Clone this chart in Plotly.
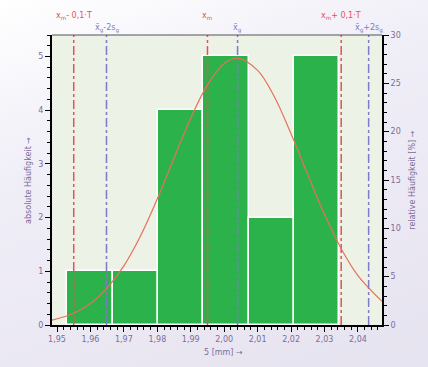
import plotly.graph_objects as go

# ---- data ----
bin_edges = [1.953, 1.9666, 1.9801, 1.9937, 2.0073, 2.0209, 2.0344]
counts = [1, 1, 4, 5, 2, 5]

curve_x = [1.9485, 1.955, 1.96, 1.965, 1.97, 1.975, 1.98, 1.985, 1.99, 1.995,
           2.0, 2.004, 2.01, 2.015, 2.02, 2.025, 2.03, 2.035, 2.04, 2.0472]
curve_y = [0.09, 0.22, 0.40, 0.69, 1.10, 1.66, 2.35, 3.11, 3.85, 4.47,
           4.87, 4.97, 4.74, 4.25, 3.56, 2.80, 2.06, 1.42, 0.92, 0.44]

red_lines = [1.955, 1.995, 2.035]
red_labels = ["x<sub>m</sub>- 0,1·T", "x<sub>m</sub>", "x<sub>m</sub>+ 0,1·T"]
blue_lines = [1.9648, 2.004, 2.0432]
blue_labels = ["x̄<sub>g</sub>-2s<sub>g</sub>", "x̄<sub>g</sub>", "x̄<sub>g</sub>+2s<sub>g</sub>"]

x_ticks = [1.95, 1.96, 1.97, 1.98, 1.99, 2.00, 2.01, 2.02, 2.03, 2.04]
x_ticktext = ["1,95", "1,96", "1,97", "1,98", "1,99", "2,00", "2,01", "2,02", "2,03", "2,04"]
y_ticks = [0, 1, 2, 3, 4, 5]
y2_ticks = [0, 5, 10, 15, 20, 25, 30]

x_range = [1.9485, 2.0472]
y_range = [0, 5.4]
y2_range = [0, 30]

# ---- styles ----
TICKCOL = "#7d6c96"
RED = "#e8505a"
BLUE = "#7d7acb"
GREEN = "#2bb24a"

centers = [(a + b) / 2 for a, b in zip(bin_edges[:-1], bin_edges[1:])]
widths = [b - a for a, b in zip(bin_edges[:-1], bin_edges[1:])]

fig = go.Figure()
fig.add_trace(go.Bar(x=centers, y=counts, width=widths,
                     marker=dict(color=GREEN, line=dict(color="white", width=1.5)),
                     showlegend=False, hoverinfo="skip"))
for xv in red_lines:
    fig.add_trace(go.Scatter(x=[xv, xv], y=y_range, mode="lines",
                             line=dict(color=RED, width=1.5, dash="dashdot"),
                             showlegend=False, hoverinfo="skip"))
for xv in blue_lines:
    fig.add_trace(go.Scatter(x=[xv, xv], y=y_range, mode="lines",
                             line=dict(color=BLUE, width=1.5, dash="dashdot"),
                             showlegend=False, hoverinfo="skip"))
fig.add_trace(go.Scatter(x=curve_x, y=curve_y, mode="lines", line_shape="spline",
                         line=dict(color="#e8705a", width=1.2),
                         showlegend=False, hoverinfo="skip"))
# invisible trace to activate y2
fig.add_trace(go.Scatter(x=[x_range[0]], y=[0], yaxis="y2", mode="markers",
                         marker=dict(opacity=0), showlegend=False, hoverinfo="skip"))

for xv, txt in zip(red_lines, red_labels):
    fig.add_annotation(x=xv, y=1, xref="x", yref="paper", text=txt, showarrow=False,
                       yanchor="bottom", yshift=12, font=dict(color=RED, size=8,
                       family="DejaVu Sans"))
for xv, txt in zip(blue_lines, blue_labels):
    fig.add_annotation(x=xv, y=1, xref="x", yref="paper", text=txt, showarrow=False,
                       yanchor="bottom", yshift=-1, font=dict(color=BLUE, size=8,
                       family="DejaVu Sans"))

fig.add_annotation(x=-0.073, y=0.5, xref="paper", yref="paper", text="absolute Häufigkeit →",
                   textangle=-90, showarrow=False, xanchor="center",
                   font=dict(color=TICKCOL, size=8, family="DejaVu Sans"))
fig.add_annotation(x=1.09, y=0.5, xref="paper", yref="paper", text="relative Häufigkeit [%] →",
                   textangle=-90, showarrow=False, xanchor="center",
                   font=dict(color=TICKCOL, size=8, family="DejaVu Sans"))
fig.add_annotation(x=0.52, y=0, xref="paper", yref="paper", text="5 [mm] →",
                   showarrow=False, yanchor="top", yshift=-21,
                   font=dict(color=TICKCOL, size=8, family="DejaVu Sans"))

fig.update_layout(
    width=428, height=367,
    margin=dict(l=52, r=46, t=35, b=42),
    paper_bgcolor="rgba(0,0,0,0)",
    plot_bgcolor="#edf2e6",
    bargap=0,
    font=dict(family="DejaVu Sans", size=8, color=TICKCOL),
    xaxis=dict(range=x_range, tickvals=x_ticks, ticktext=x_ticktext,
               ticks="outside", ticklen=5, tickcolor="black", tickwidth=1,
               minor=dict(dtick=0.002, tick0=1.95, ticks="outside", ticklen=3,
                          tickcolor="black"),
               showgrid=False, zeroline=False, showline=True, linecolor="black",
               linewidth=2, mirror=False, tickfont=dict(size=8, color=TICKCOL)),
    yaxis=dict(range=y_range, tickvals=y_ticks, ticks="outside", ticklen=5,
               tickcolor="black", minor=dict(dtick=0.2, ticks="outside", ticklen=3,
                                             tickcolor="black"),
               showgrid=False, zeroline=False, showline=True, linecolor="black",
               linewidth=2, tickfont=dict(size=8, color=TICKCOL)),
    yaxis2=dict(range=y2_range, tickvals=y2_ticks, overlaying="y", side="right",
                ticks="outside", ticklen=5, tickcolor="black",
                minor=dict(dtick=1, ticks="outside", ticklen=3, tickcolor="black"),
                showgrid=False, zeroline=False, showline=True, linecolor="black",
                linewidth=2, tickfont=dict(size=8, color=TICKCOL)),
    shapes=[dict(type="line", xref="paper", yref="paper", x0=0, x1=1, y0=1, y1=1,
                 line=dict(color="#555555", width=1.2))],
)

fig.write_html(
    "out.html",
    config={"displayModeBar": False},
    post_script=("document.body.style.margin='0';"
                 "document.body.style.overflow='hidden';"
                 "document.body.style.background="
                 "'linear-gradient(160deg, #ffffff 0%, #f0eef7 35%, #e6e3f0 100%)';"),
)
